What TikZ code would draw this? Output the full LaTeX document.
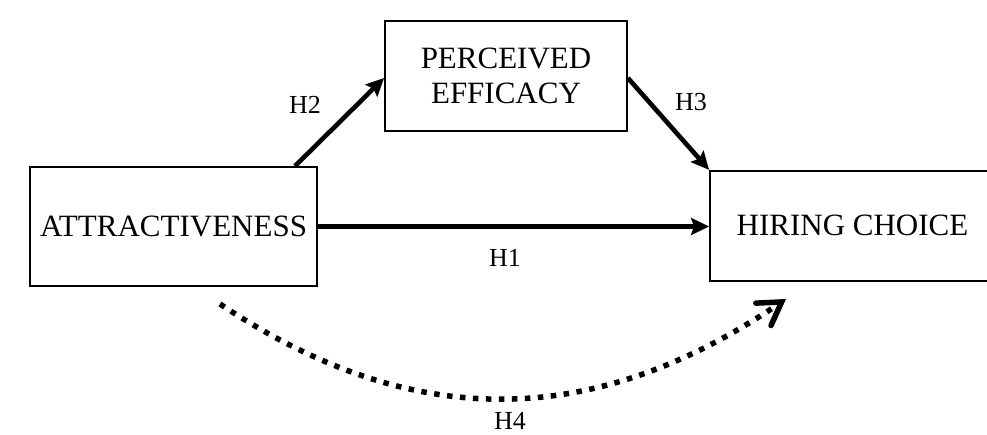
\documentclass[tikz,border=0pt]{standalone}
\usepackage{fontspec}
\setmainfont{Liberation Serif}
\usetikzlibrary{arrows.meta}
\begin{document}
\begin{tikzpicture}[x=1pt,y=-1pt,
  box/.style={draw,line width=1.8pt,inner sep=0pt,font=\fontsize{31}{35}\selectfont,align=center},
  lbl/.style={font=\fontsize{26}{29}\selectfont},
  conn/.style={line width=4.6pt,-{Stealth[length=18pt,width=17pt,inset=3pt]}},
  dotconn/.style={line width=5.5pt,dash pattern=on 5.5pt off 7.5pt,
    -{Straight Barb[length=22pt,width=27pt,line width=5.5pt,line cap=round]}}]
\clip (0,0) rectangle (987,434);
\node[box,minimum width=287pt,minimum height=119pt] (attr) at (173.5,226.5) {ATTRACTIVENESS};
\node[box,minimum width=242pt,minimum height=110pt] (pe) at (506,76) {PERCEIVED\\EFFICACY};
\node[box,minimum width=285pt,minimum height=110pt] (hc) at (852.5,225.75) {HIRING CHOICE};
\coordinate (h2s) at ([xshift=121.5pt]attr.north);
\draw[conn] (h2s) -- ([yshift=-2pt]pe.west);
\draw[conn] ([yshift=-2pt]pe.east) -- (hc.north west);
\draw[conn] (attr.east) -- (attr.east -| hc.west);
\coordinate (h4s) at (220,304);
\coordinate (h4e) at (786,299);
\draw[dotconn] (h4s) .. controls (409,430) and (590,432) .. (h4e);
\node[lbl] (l2) at (305,105) {H2};
\node[lbl] (l3) at (691,102) {H3};
\node[lbl] (l1) at (505,258) {H1};
\node[lbl] (l4) at (510,421) {H4};
\end{tikzpicture}
\end{document}
